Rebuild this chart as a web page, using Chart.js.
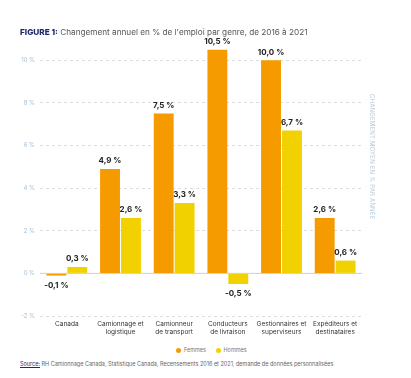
<!DOCTYPE html>
<html>
<head>
<meta charset="utf-8">
<script src="https://cdn.jsdelivr.net/npm/chart.js@4"></script>
<style>
  body { margin: 0; background: #fff; font-family: Inter, "Open Sans", sans-serif; }
  #wrap { position: relative; width: 411px; height: 378px; overflow: hidden; }
  #chart { position: absolute; left: 0; top: 0; }
  .title { position: absolute; left: 20px; top: 27px; font-size: 8.2px; color: #555; white-space: nowrap; }
  .title b { color: #1f2a6b; font-weight: 800; }
  .axis-title { position: absolute; left: 369px; top: 94px; writing-mode: vertical-rl;
    font-size: 6px; color: #b8cadc; letter-spacing: 0.2px; white-space: nowrap; }
  .legend { position: absolute; left: 176px; top: 347px; font-size: 5.5px; color: #777; white-space: nowrap; }
  .legend span.dot { display: inline-block; width: 5px; height: 5px; border-radius: 50%; vertical-align: -0.5px; margin-right: 3px; }
  .legend span.item { margin-right: 8px; }
  .source { position: absolute; left: 20px; top: 361px; font-size: 5.5px; color: #666; white-space: nowrap; }
  .source u { color: #1f2a6b; }
</style>
</head>
<body>
<div id="wrap">
  <canvas id="chart" width="411" height="345"></canvas>
  <div class="title"><b>FIGURE 1:</b> Changement annuel en % de l'emploi par genre, de 2016 à 2021</div>
  <div class="axis-title">CHANGEMENT MOYEN EN % PAR ANNÉE</div>
  <div class="legend">
    <span class="item"><span class="dot" style="background:#f59b00"></span>Femmes</span>
    <span class="item"><span class="dot" style="background:#f2d100"></span>Hommes</span>
  </div>
  <div class="source"><u>Source:</u> RH Camionnage Canada, Statistique Canada, Recensements 2016 et 2021, demande de données personnalisées</div>
</div>
<script>
const categories = [
  'Canada',
  ['Camionnage et', 'logistique'],
  ['Camionneur', 'de transport'],
  ['Conducteurs', 'de livraison'],
  ['Gestionnaires et', 'superviseurs'],
  ['Expéditeurs et', 'destinataires']
];
const femmes = [-0.1, 4.9, 7.5, 10.5, 10.0, 2.6];
const hommes = [0.3, 2.6, 3.3, -0.5, 6.7, 0.6];
const yTicks = [-2, 0, 2, 4, 6, 8, 10];

const fmt = v => v.toFixed(1).replace('.', ',') + ' %';

// étiquettes de valeur au-dessus / en dessous des barres
const valueLabels = {
  id: 'valueLabels',
  afterDatasetsDraw(chart) {
    const ctx = chart.ctx;
    ctx.save();
    ctx.font = 'bold 8px Inter, "Open Sans", sans-serif';
    ctx.fillStyle = '#222';
    ctx.textAlign = 'center';
    ctx.textBaseline = 'middle';
    chart.data.datasets.forEach((ds, i) => {
      chart.getDatasetMeta(i).data.forEach((bar, j) => {
        const v = ds.data[j];
        const y = v >= 0 ? bar.y - 8 : bar.y + 10;
        ctx.fillText(fmt(v), bar.x, y);
      });
    });
    ctx.restore();
  }
};

// ligne du zéro pleine
const zeroLine = {
  id: 'zeroLine',
  beforeDatasetsDraw(chart) {
    const y = chart.scales.y.getPixelForValue(0);
    const a = chart.chartArea;
    const ctx = chart.ctx;
    ctx.save();
    ctx.strokeStyle = '#cfcfcf';
    ctx.lineWidth = 1;
    ctx.beginPath();
    ctx.moveTo(a.left, y);
    ctx.lineTo(a.right, y);
    ctx.stroke();
    ctx.restore();
  }
};

new Chart(document.getElementById('chart'), {
  type: 'bar',
  data: {
    labels: categories,
    datasets: [
      { label: 'Femmes', data: femmes, backgroundColor: '#f59b00' },
      { label: 'Hommes', data: hommes, backgroundColor: '#f2d100' }
    ]
  },
  options: {
    responsive: false,
    animation: false,
    categoryPercentage: 0.78,
    barPercentage: 0.95,
    layout: { padding: { top: 39, right: 49, left: 0, bottom: 0 } },
    plugins: { legend: { display: false }, tooltip: { enabled: false } },
    scales: {
      x: {
        grid: { display: false, drawTicks: false },
        border: { display: false },
        ticks: { color: '#333', font: { size: 6.5, family: 'Inter, "Open Sans", sans-serif', lineHeight: 1.25 }, padding: 4, maxRotation: 0 },
        afterFit: s => { s.height = 29; }
      },
      y: {
        min: -2,
        max: 11,
        afterBuildTicks: s => { s.ticks = yTicks.map(v => ({ value: v })); },
        afterFit: s => { s.width = 40; },
        border: { display: false, dash: [3, 3] },
        grid: {
          color: c => c.tick && c.tick.value === 0 ? 'rgba(0,0,0,0)' : '#dcdcdc',
          drawTicks: false
        },
        ticks: {
          color: '#a9c1da',
          font: { size: 6, family: 'Inter, "Open Sans", sans-serif' },
          padding: 5,
          callback: v => v + ' %'
        }
      }
    }
  },
  plugins: [zeroLine, valueLabels]
});
</script>
</body>
</html>
